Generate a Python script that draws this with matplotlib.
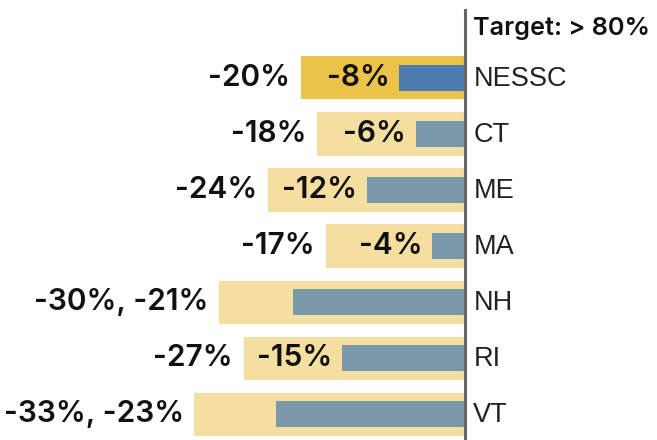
import matplotlib
matplotlib.use("Agg")
import matplotlib.pyplot as plt

categories = ["NESSC", "CT", "ME", "MA", "NH", "RI", "VT"]
outer_vals = [-20, -18, -24, -17, -30, -27, -33]
inner_vals = [-8, -6, -12, -4, -21, -15, -23]
target_label = "Target: > 80%"

plt.rcParams['font.family'] = ['Liberation Sans', 'DejaVu Sans']

fig = plt.figure(figsize=(6.57, 4.40), dpi=100)
ax = fig.add_axes([0, 0, 1, 1])
ax.set_xlim(-56.7, 23.4)
ax.set_ylim(6.46, -1.39)
ax.axis('off')

outer_col = "#F5DFA0"
outer_hi = "#EBC24A"
inner_col = "#7A9AAA"
inner_hi = "#4A7DAE"

vfont = dict(family=['Inter', 'DejaVu Sans'], fontsize=21.5, fontweight='semibold', color='#111111')

for i, (cat, o, n) in enumerate(zip(categories, outer_vals, inner_vals)):
    hi = i == 0
    ax.barh(i, o, height=0.77, color=outer_hi if hi else outer_col, zorder=1)
    ax.barh(i, n, height=0.46, color=inner_hi if hi else inner_col, zorder=2)
    ax.text(1.0, i + 0.02, cat, ha='left', va='center', fontsize=19.5, color='#222222')
    if (n - o) < 11:
        ax.text(o - 1.3, i, f"{o}%, {n}%", ha='right', va='center', **vfont)
    else:
        ax.text(o - 1.3, i, f"{o}%", ha='right', va='center', **vfont)
        ax.text(n - 1.2, i, f"{n}%", ha='right', va='center', **vfont)

ax.plot([0, 0], [-1.21, 6.46], color='#666666', lw=2.2, zorder=3)
ax.text(1.0, -0.88, target_label, ha='left', va='center', family=['Inter', 'DejaVu Sans'],
        fontsize=18.2, fontweight='semibold', color='#111111')

fig.savefig("out.png", dpi=100)
